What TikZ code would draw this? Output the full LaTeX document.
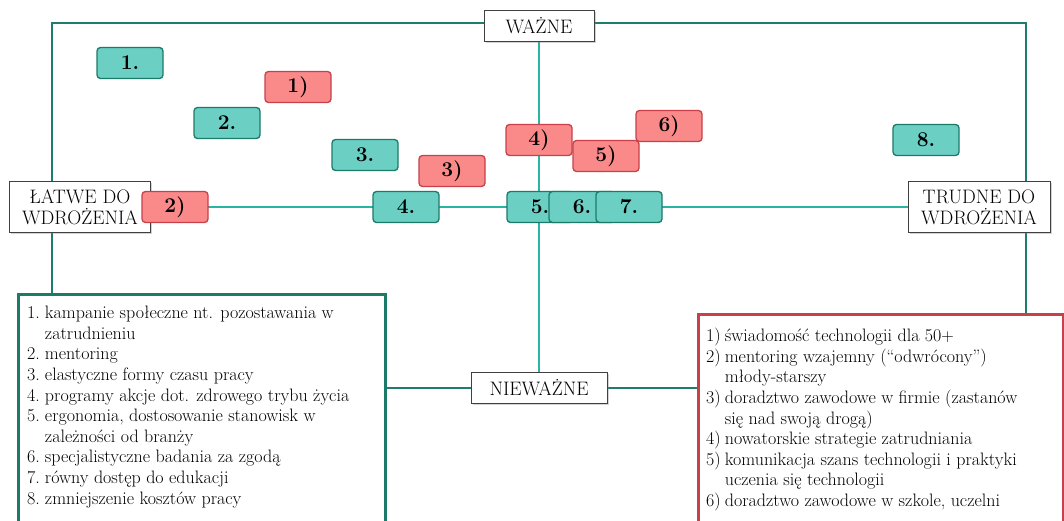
\documentclass[tikz,border=0pt]{standalone}
\usepackage{fontspec}
\usetikzlibrary{shadows,backgrounds}
\definecolor{frameC}{HTML}{1F7D6D}
\definecolor{axisC}{HTML}{2BB3A3}
\definecolor{tealF}{HTML}{6CCFC4}
\definecolor{tealD}{HTML}{1B7A68}
\definecolor{redF}{HTML}{FA8A8A}
\definecolor{redD}{HTML}{C8404A}
\begin{document}
\begin{tikzpicture}[x=1pt,y=-1pt,
  frame/.style={draw=frameC, line width=2pt},
  axisline/.style={draw=axisC, line width=2pt},
  axlabel/.style={draw=black!75, fill=white, line width=0.8pt, align=center, inner sep=0pt,
    font=\fontsize{19.5}{21}\selectfont,
    drop shadow={opacity=0.35, shadow xshift=1.5pt, shadow yshift=-1.5pt}},
  numbox/.style={rounded corners=3.5pt, line width=1.3pt, minimum width=66pt, minimum height=31pt,
    inner sep=0pt, font=\fontsize{21}{21}\bfseries\selectfont},
  tbox/.style={numbox, draw=tealD, fill=tealF},
  rbox/.style={numbox, draw=redD, fill=redF},
  legbox/.style={line width=2.5pt, fill=white, minimum width=#1, minimum height=240pt, inner sep=0pt, anchor=north west,
    drop shadow={opacity=0.25, shadow xshift=1.5pt, shadow yshift=-1.5pt}},
  legtext/.style={anchor=north west, inner sep=0pt, align=left, font=\fontsize{18}{20.6}\selectfont}
]
\useasboundingbox (0,0) rectangle (1064,520);
% axis labels
\node[axlabel, minimum width=110pt, minimum height=31pt] (wazne) at (539,26) {WAŻNE};
\node[axlabel, minimum width=136pt, minimum height=31pt] (niewazne) at (539,388) {NIEWAŻNE};
\node[axlabel, minimum width=141pt, minimum height=51pt] (latwe) at (80,207) {ŁATWE DO\\WDROŻENIA};
\node[axlabel, minimum width=142pt, minimum height=51pt] (trudne) at (979,207) {TRUDNE DO\\WDROŻENIA};
% legends
\node[legbox=367pt, draw=tealD] (legL) at (17,293) {};
\node[legbox=365pt, draw=redD] (legR) at (697,313) {};
\node[legtext] (legLtext) at (27,304) {%
\begin{tabular}{@{}l@{\hspace{5pt}}l@{}}
1. & kampanie społeczne nt. pozostawania w\\
   & zatrudnieniu\\
2. & mentoring\\
3. & elastyczne formy czasu pracy\\
4. & programy akcje dot. zdrowego trybu życia\\
5. & ergonomia, dostosowanie stanowisk w\\
   & zależności od branży\\
6. & specjalistyczne badania za zgodą\\
7. & równy dostęp do edukacji\\
8. & zmniejszenie kosztów pracy
\end{tabular}};
\node[legtext] (legRtext) at (706,327) {%
\begin{tabular}{@{}l@{\hspace{4pt}}l@{}}
1) & świadomość technologii dla 50$+$\\
2) & mentoring wzajemny (“odwrócony”)\\
   & młody-starszy\\
3) & doradztwo zawodowe w firmie (zastanów\\
   & się nad swoją drogą)\\
4) & nowatorskie strategie zatrudniania\\
5) & komunikacja szans technologii i praktyki\\
   & uczenia się technologii\\
6) & doradztwo zawodowe w szkole, uczelni
\end{tabular}};
% background lines
\begin{scope}[on background layer]
\coordinate (tl) at (52,23);
\coordinate (tr) at (1026,23);
\draw[frame] (tl |- legL.north) -- (tl) -- (tr) -- (tr |- legR.north);
\draw[frame] (legL.east |- niewazne) -- (niewazne) -- (legR.west |- niewazne);
\draw[axisline] (wazne) -- (niewazne);
\draw[axisline] (latwe) -- (trudne);
\end{scope}
% teal boxes
\node[tbox] (t1) at (130,63) {1.};
\node[tbox] (t2) at (227,123) {2.};
\node[tbox] (t3) at (365,155) {3.};
\node[tbox] (t4) at (406,207) {4.};
\node[tbox] (t5) at (540,207) {5.};
\node[tbox] (t6) at (582,207) {6.};
\node[tbox] (t7) at (629,207) {7.};
\node[tbox] (t8) at (926,140) {8.};
% red boxes
\node[rbox] (r1) at (298,87) {1)};
\node[rbox] (r2) at (175,207) {2)};
\node[rbox] (r3) at (452,171) {3)};
\node[rbox] (r4) at (539,140) {4)};
\node[rbox] (r5) at (606,156) {5)};
\node[rbox] (r6) at (669,126) {6)};
\end{tikzpicture}
\end{document}
